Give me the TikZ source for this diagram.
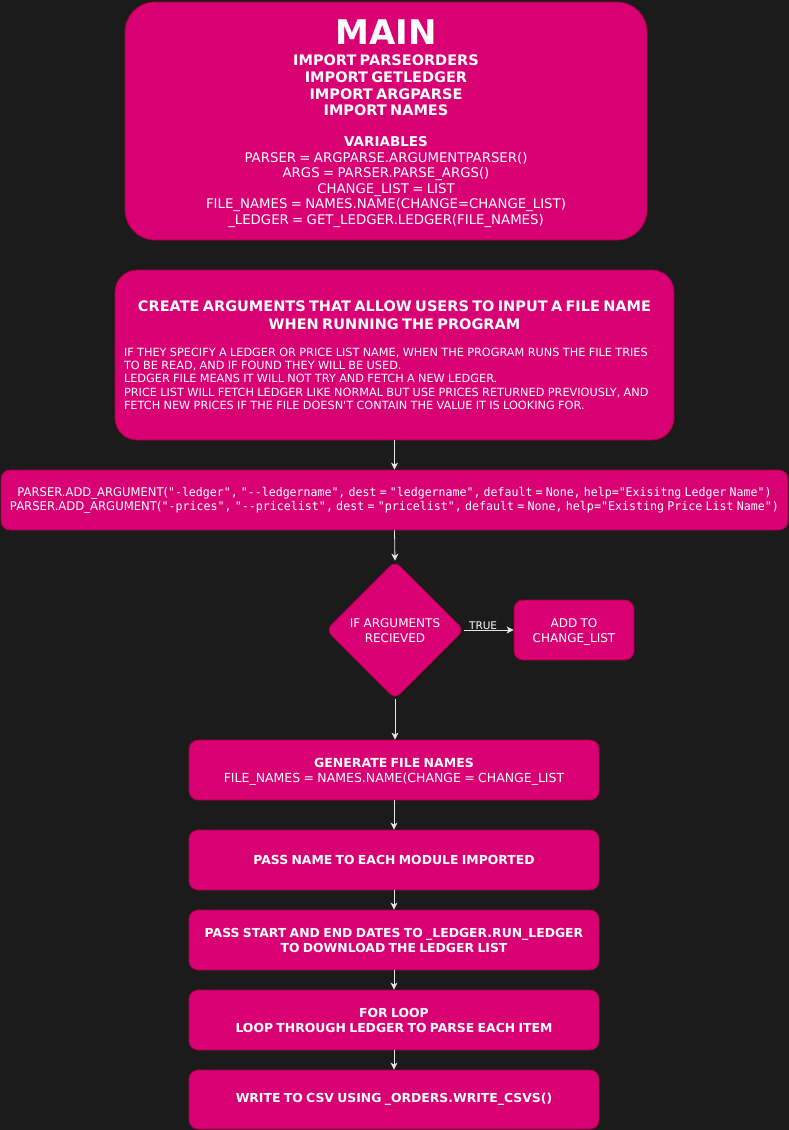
\documentclass[tikz,border=0pt]{standalone}
\usepackage{fontspec}
\setmainfont{DejaVu Sans}
\newfontfamily\codemono{DejaVu Sans Mono}
\usetikzlibrary{shapes.geometric,arrows.meta}
\definecolor{bgc}{HTML}{1B1B1B}
\definecolor{pinkc}{HTML}{D80073}
\definecolor{strokec}{HTML}{A50040}
\definecolor{arrc}{HTML}{E8E8E8}
\tikzset{
  box/.style={draw=strokec, fill=pinkc, text=white, align=center, inner sep=0pt, line width=0.8pt, rounded corners=9pt},
  flow/.style={draw=arrc, line width=0.8pt, -{Stealth[length=7pt,width=7pt,inset=2pt]}},
}
\begin{document}
\begin{tikzpicture}[x=1pt,y=-1pt]
\fill[bgc] (0,0) rectangle (789,1130);
\useasboundingbox (0,0) rectangle (789,1130);

\node[box, rounded corners=30pt, minimum width=522pt, minimum height=238pt, text width=500pt] (main) at (386,121)
{\fontsize{34}{35}\selectfont\bfseries MAIN\par\vspace{5pt}
 \fontsize{14.5}{16.7}\selectfont IMPORT PARSEORDERS\\
 IMPORT GETLEDGER\\
 IMPORT ARGPARSE\\
 IMPORT NAMES\par\vspace{15pt}
 \fontsize{13.5}{15.6}\selectfont VARIABLES\par
 \fontsize{13.3}{15.6}\selectfont\mdseries PARSER = ARGPARSE.ARGUMENTPARSER()\\
 ARGS = PARSER.PARSE\_ARGS()\\
 CHANGE\_LIST = LIST\\
 FILE\_NAMES = NAMES.NAME(CHANGE=CHANGE\_LIST)\\
 \_LEDGER = GET\_LEDGER.LEDGER(FILE\_NAMES)\par\vspace{-5pt}};

\node[box, rounded corners=22pt, minimum width=559pt, minimum height=170pt, text width=541pt, align=left] (args) at (394.5,355)
{{\centering\bfseries\fontsize{14.5}{18}\selectfont CREATE ARGUMENTS THAT ALLOW USERS TO INPUT A FILE NAME\\
 WHEN RUNNING THE PROGRAM\par}\vspace{14pt}
 {\fontsize{11.3}{13.2}\selectfont IF THEY SPECIFY A LEDGER OR PRICE LIST NAME, WHEN THE PROGRAM RUNS THE FILE TRIES\\
 TO BE READ, AND IF FOUND THEY WILL BE USED.\\
 LEDGER FILE MEANS IT WILL NOT TRY AND FETCH A NEW LEDGER.\\
 PRICE LIST WILL FETCH LEDGER LIKE NORMAL BUT USE PRICES RETURNED PREVIOUSLY, AND\\
 FETCH NEW PRICES IF THE FILE DOESN\textquotesingle T CONTAIN THE VALUE IT IS LOOKING FOR.\par}};

\node[box, minimum width=787pt, minimum height=60pt, text width=785pt] (parse) at (394.5,500)
{\fontsize{12}{14}\selectfont
 \resizebox{754pt}{\height}{PARSER.ADD\_ARGUMENT(\codemono "-ledger", "-{}-ledgername", dest = "ledgername", default = None, help="Exisitng Ledger Name")}\\
 \resizebox{769pt}{\height}{PARSER.ADD\_ARGUMENT(\codemono "-prices", "-{}-pricelist", dest = "pricelist", default = None, help="Existing Price List Name")}\par};

\node[box, shape=diamond, rounded corners=7pt, minimum width=138pt, minimum height=138pt, text width=96pt] (dec) at (395,630)
{\fontsize{12}{15}\selectfont IF ARGUMENTS\\ RECIEVED\par\vspace{-2pt}};

\node[box, minimum width=120pt, minimum height=60pt, text width=110pt] (add) at (574,630)
{\fontsize{12}{15}\selectfont ADD TO\\ CHANGE\_LIST\par\vspace{-3pt}};

\node[box, minimum width=410pt, minimum height=60pt, text width=400pt] (gen) at (394,770)
{\fontsize{12.5}{15}\selectfont\textbf{GENERATE FILE NAMES}\\ FILE\_NAMES = NAMES.NAME(CHANGE = CHANGE\_LIST\par\vspace{-3pt}};

\node[box, minimum width=410pt, minimum height=60pt, text width=400pt] (pass) at (394,860)
{\fontsize{12.4}{15}\selectfont\bfseries PASS NAME TO EACH MODULE IMPORTED\par};

\node[box, minimum width=410pt, minimum height=60pt, text width=400pt] (dates) at (394,940)
{\fontsize{12.4}{15}\selectfont\bfseries PASS START AND END DATES TO \_LEDGER.RUN\_LEDGER\\ TO DOWNLOAD THE LEDGER LIST\par\vspace{-1pt}};

\node[box, minimum width=410pt, minimum height=60pt, text width=400pt] (loop) at (394,1020)
{\fontsize{12.4}{15}\selectfont\bfseries FOR LOOP\\ LOOP THROUGH LEDGER TO PARSE EACH ITEM\par\vspace{-1pt}};

\node[box, minimum width=410pt, minimum height=59pt, text width=400pt] (csv) at (394,1099.5)
{\fontsize{12.4}{15}\selectfont\bfseries WRITE TO CSV USING \_ORDERS.WRITE\_CSVS()\par};

\draw[flow] (args.south -| parse.north) -- (parse.north);
\draw[flow] (parse.south) -- (dec.north);
\draw[flow] (dec.east) -- node[pos=0.38, yshift=4pt, inner sep=0pt, text=white, font=\fontsize{10.5}{12}\selectfont] (truelbl) {TRUE} (add.west);
\draw[flow] (dec.south) -- (dec.south |- gen.north);
\draw[flow] (gen.south) -- (pass.north);
\draw[flow] (pass.south) -- (dates.north);
\draw[flow] (dates.south) -- (loop.north);
\draw[flow] (loop.south) -- (csv.north);
\end{tikzpicture}
\end{document}
